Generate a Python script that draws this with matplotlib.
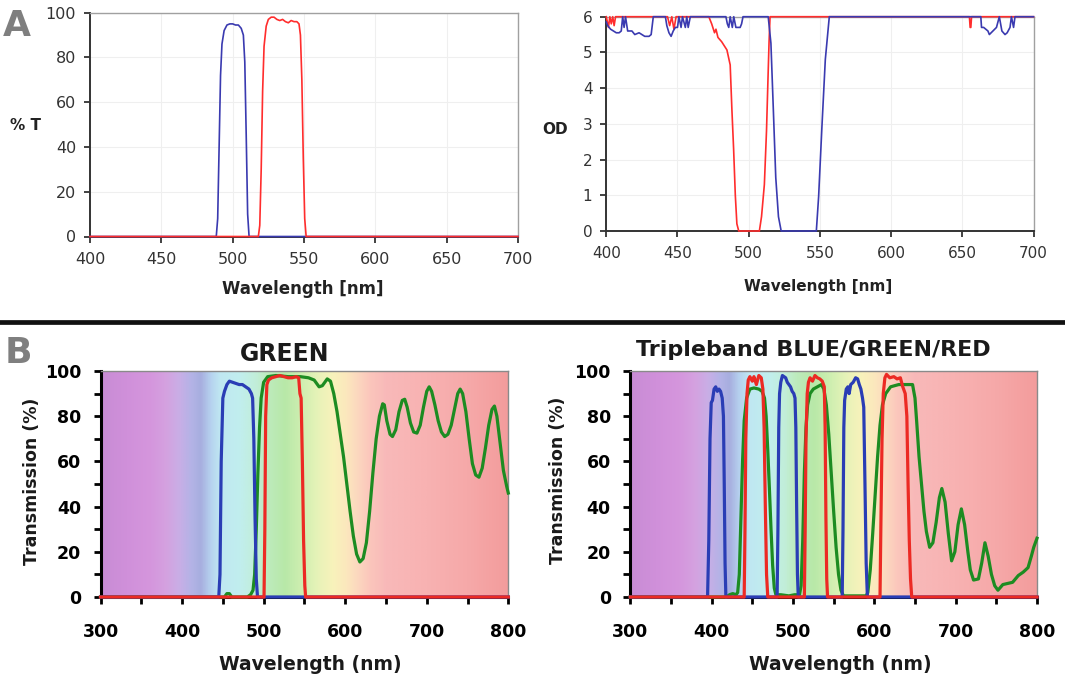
import matplotlib
matplotlib.use('Agg')
import matplotlib.pyplot as plt
import numpy as np
from matplotlib.colors import LinearSegmentedColormap
from matplotlib.lines import Line2D

plt.rcParams['font.family'] = ['DejaVu Sans']

W, H = 1065, 677

# ---------------- panel A left: % T ----------------
a_blue_wl = [400, 488.5, 489.5, 490.5, 491.5, 492.5, 494, 496, 498, 500, 502, 504, 506, 507.5,
             508.5, 509.5, 510.5, 511.5, 700]
a_blue_t = [0, 0, 8, 40, 72, 86, 92, 94.5, 95, 95, 94.5, 94.5, 93, 90, 78, 45, 10, 0, 0]

a_red_wl = [400, 518, 519, 520, 521, 522, 523.5, 525, 527, 529, 531, 533, 535, 537, 539, 541,
            543, 545, 546.5, 547.5, 548.5, 549.5, 550.5, 551.5, 700]
a_red_t = [0, 0, 5, 30, 65, 85, 94, 97, 98, 98, 97, 96.5, 97, 96, 95.5, 96.5, 96, 96, 95, 90,
           70, 35, 8, 0, 0]

# ---------------- panel A right: OD ----------------
od_red_wl = [400, 401.5, 402.5, 403.5, 404.5, 405.5, 406.5, 443, 444.5, 446, 447.5, 449, 450.5,
             472, 474, 476, 477, 478.4, 481, 484.7, 487, 488.2, 489.4, 490.6, 491.7, 493,
             500, 507.5, 509, 511, 512.5, 513.5, 514.3, 515, 655, 655.5, 656, 656.5, 700]
od_red = [6, 5.7, 6, 5.8, 6, 5.75, 6, 6, 5.75, 6, 5.65, 6, 6,
          6, 5.8, 5.55, 5.65, 5.42, 5.3, 5.07, 4.65, 3.4, 2.3, 1.0, 0.2, 0,
          0, 0, 0.4, 1.3, 2.8, 4.2, 5.3, 6, 6, 5.7, 5.7, 6, 6]

od_blue_wl = [400, 401, 403, 405, 407, 409, 410.5, 411.5, 412.5, 413.5, 415, 418, 420, 423, 425,
              427, 430, 431.5, 433, 441.5, 442.5, 444, 445.5, 447, 448.5, 450, 451, 452.5,
              453.5, 455.5, 456.5, 457.5, 459, 484, 485, 486, 487, 488.5, 489.5, 491, 494, 495,
              496, 513.7, 515.6, 517.3, 519, 520.9, 522.8, 547.5, 549.1, 551.4, 553.8, 556.6,
              663, 663.5, 665, 668, 669, 671.5, 674, 676, 677.8, 680, 681.5, 683.5, 684.5, 686,
              687, 700]
od_blue = [5.85, 5.75, 5.65, 5.6, 5.55, 5.55, 5.6, 6, 5.7, 6, 5.6, 5.6, 5.5, 5.55, 5.5,
           5.45, 5.45, 5.5, 6, 6, 5.75, 5.55, 5.45, 5.6, 5.7, 5.7, 6, 5.7,
           6, 5.7, 6, 5.7, 6, 6, 5.8, 5.7, 6, 5.7, 6, 5.7, 5.7, 5.8,
           6, 6, 5.26, 3.4, 1.5, 0.4, 0, 0, 0.96, 2.9, 4.8, 6,
           6, 5.7, 5.7, 5.6, 5.5, 5.6, 5.7, 6, 5.6, 5.5, 5.55, 5.7, 6, 5.7,
           6, 6]

# ---------------- panel B left: GREEN ----------------
g_blue_wl = [300, 445, 446.5, 448, 450, 452, 455, 458, 462, 466, 470, 474, 478, 482, 485,
             486.5, 488, 489.5, 491, 492.5, 800]
g_blue_t = [0, 0, 10, 60, 88, 91, 94, 95.5, 95, 94.5, 94, 94, 93, 92, 90, 88, 70, 35, 8, 0, 0]

g_red_wl = [300, 500.5, 501.5, 502.5, 504, 506, 510, 515, 520, 525, 530, 535, 540, 543, 544.5,
            546, 547.5, 549, 550.5, 551.5, 800]
g_red_t = [0, 0, 30, 80, 94, 96, 97, 97.5, 98, 97.5, 97, 97, 97.5, 97, 90, 88, 60, 25, 5, 0, 0]

g_green_wl = [300, 452, 455, 458, 461, 480, 484, 487, 489, 491, 493, 495, 497, 500, 505, 515,
              530, 545, 555, 562, 568, 572, 575, 578, 582, 586, 590, 594, 598, 602, 606, 610,
              614, 618, 622, 626, 630, 634, 638, 642, 646, 648, 651, 655, 658, 662, 666, 670,
              673, 676, 680, 684, 688, 692, 696, 700, 703, 706, 710, 714, 718, 722, 726, 730,
              734, 738, 741, 744, 748, 752, 756, 760, 764, 768, 772, 776, 780, 783, 786, 790,
              794, 798, 800]
g_green_t = [0, 0, 1.5, 1.5, 0, 0, 1, 3, 10, 30, 55, 75, 88, 95, 97.5, 98,
             97.5, 97.5, 97, 96, 93, 93.5, 95, 96.5, 95.5, 90, 82, 72, 62, 50, 38, 27,
             19, 15.5, 17, 24, 38, 55, 70, 80, 85.5, 85, 78, 72, 71, 74, 82, 87,
             87.5, 84, 77, 73, 72.5, 76, 84, 91, 93, 91, 85, 78, 73, 71, 72, 76,
             83, 90, 92, 90, 82, 70, 59, 54, 53, 57, 66, 76, 83, 84.5, 80, 68,
             56, 49, 46]

# ---------------- panel B right: Tripleband ----------------
t_blue_wl = [300, 395, 396.5, 398, 399.5, 401, 403, 405, 407, 409, 411, 413, 414.5, 415.5, 416.5,
             417.5, 480.5, 481.5, 482.5, 483.5, 485, 487, 489, 491, 493, 495, 497, 499, 501,
             502.5, 503.5, 504.5, 505.5, 506.5, 560.5, 561.5, 562.5, 563.5, 565.5, 567.5, 569,
             571, 574, 577, 579.5, 581.5, 583.5, 585.5, 587, 588.5, 590, 591.5, 800]
t_blue_t = [0, 0, 25, 70, 86, 87, 92, 93, 91, 92, 91, 88, 80, 50, 15,
            0, 0, 30, 75, 90, 95, 98, 97.5, 97, 95, 94, 93, 91, 90,
            88, 75, 40, 10, 0, 0, 30, 75, 87, 92, 93, 90,
            94, 95, 97, 96.5, 94, 92, 88, 84, 50, 15, 0, 0]

t_red_wl = [300, 440, 441, 442, 443.5, 445, 447, 450, 452, 455, 458, 461, 463, 464.5, 466, 467.5,
            469, 514, 515, 516, 517.5, 519, 521, 524, 527, 530, 533, 536, 538.5, 539.5, 540.5,
            541.5, 542.5, 607, 608, 609.5, 611, 613, 615, 619, 624, 628, 632, 635, 638, 640,
            641.5, 643, 644.5, 646, 800]
t_red_t = [0, 0, 30, 70, 90, 96, 97.5, 95.5, 97.5, 94, 98, 97, 92, 75, 40, 10,
           0, 0, 30, 70, 90, 95, 97, 95.5, 98, 97, 96.5, 95.5, 93, 75, 35,
           8, 0, 0, 30, 70, 90, 97, 98.5, 97, 97.5, 96.5, 97, 93, 90, 80,
           50, 25, 8, 0, 0]

t_green_wl = [300, 418, 422, 426, 430, 432, 434, 436, 438, 440, 443, 447, 452, 458, 462, 465,
              467, 469, 471, 473, 475, 477, 479, 485, 495, 502, 506, 508, 510, 512, 514, 516,
              518, 521, 525, 530, 535, 538, 541, 544, 547, 550, 553, 556, 559, 562, 590, 592,
              595, 598, 601, 604, 607, 610, 614, 620, 630, 640, 647, 650, 652, 655, 658, 661,
              664, 668, 672, 676, 680, 683, 687, 691, 695, 699, 703, 707, 711, 715, 718, 722,
              728, 732, 736, 740, 744, 748, 752, 758, 764, 770, 777, 783, 789, 793, 796, 800]
t_green_t = [0, 0, 1, 1.5, 1, 2, 10, 35, 60, 78, 88, 92, 92.5, 92, 91, 88,
             80, 65, 48, 30, 14, 4, 1, 1, 0.5, 1, 1, 1, 5, 25, 55, 75,
             85, 90, 92, 93, 94, 92, 85, 72, 55, 38, 22, 10, 3, 0.5, 0.5, 2,
             12, 28, 45, 62, 76, 85, 90, 93, 94, 94, 94, 88, 78, 62, 50, 38,
             29, 22, 24, 33, 44, 48, 42, 28, 16, 20, 32, 39, 32, 20, 12, 7.5,
             8, 15, 24, 18, 10, 5, 3, 5.5, 6, 6.5, 9.5, 11, 13, 18, 22, 26]

# spectrum colours behind the B plots (wavelength, colour)
spec_wl = [300, 330, 360, 380, 395, 410, 422, 434, 445, 470, 490, 505, 525, 545, 565, 585,
           600, 615, 630, 650, 700, 750, 800]
spec_col = ['#c88cd5', '#d090da', '#d596dd', '#d4a2e0', '#c9aee6', '#b3b3e6', '#a7aedf',
            '#b6d2ef', '#bfe7f2', '#c1eeee', '#c2eed8', '#bdebbc', '#b8e8a8', '#cdeeb0',
            '#e6f3b8', '#f8f2bb', '#fbe8bd', '#fcd8bf', '#fbc6bc', '#f8b9b9', '#f8b2b2',
            '#f6a9a9', '#f39c9c']


def fx(x):
    return x / W


def fy(y):
    return 1 - y / H


fig = plt.figure(figsize=(W / 100, H / 100), dpi=100)


def style_a(ax, xlim, ylim, yticks, fs):
    ax.set_xlim(*xlim)
    ax.set_ylim(*ylim)
    ax.set_xticks(np.arange(xlim[0], xlim[1] + 1, 50))
    ax.set_yticks(yticks)
    ax.grid(color='#efefef', lw=0.8)
    ax.set_axisbelow(True)
    for s in ['top', 'right']:
        ax.spines[s].set_color('#a0a0a0')
        ax.spines[s].set_linewidth(1)
    for s in ['left', 'bottom']:
        ax.spines[s].set_color('#333333')
        ax.spines[s].set_linewidth(1.4)
    ax.tick_params(axis='both', direction='out', length=4, width=1.3, color='#333333',
                   labelcolor='#333333', labelsize=fs)
    ax.tick_params(axis='y', pad=6)
    ax.tick_params(axis='x', pad=7)


# A left
ax1 = fig.add_axes([fx(90), fy(236.5), fx(428), 223.8 / H])
style_a(ax1, (400, 700), (0, 100), np.arange(0, 101, 20), 11.5)
ax1.plot(a_blue_wl, a_blue_t, color='#3a3ab0', lw=1.2, clip_on=False, zorder=3)
ax1.plot(a_red_wl, a_red_t, color='#ff2d2d', lw=1.2, clip_on=False, zorder=3)

# A right
ax2 = fig.add_axes([fx(606.3), fy(231), fx(427.2), 214.3 / H])
style_a(ax2, (400, 700), (0, 6), np.arange(0, 7, 1), 11)
ax2.plot(od_red_wl, od_red, color='#ff2d2d', lw=1.2, clip_on=False, zorder=3)
ax2.plot(od_blue_wl, od_blue, color='#3a3ab0', lw=1.2, clip_on=False, zorder=3)

fig.text(fx(26), fy(126), '% T', ha='center', va='center', fontsize=11, fontweight='bold',
         color='#222222')
fig.text(fx(555), fy(129), 'OD', ha='center', va='center', fontsize=11, fontweight='bold',
         color='#222222')
fig.text(fx(303), fy(289), 'Wavelength [nm]', ha='center', va='center', fontsize=12,
         fontweight='bold', color='#222222')
fig.text(fx(818), fy(286), 'Wavelength [nm]', ha='center', va='center', fontsize=11,
         fontweight='bold', color='#222222')

# separator
fig.add_artist(Line2D([0, 1], [fy(321.5), fy(321.5)], transform=fig.transFigure,
                      color='#111111', lw=3.4))

fig.text(fx(3), fy(36), 'A', ha='left', va='baseline', fontsize=26, fontweight='bold',
         color='#7f7f7f')
fig.text(fx(5), fy(363), 'B', ha='left', va='baseline', fontsize=26, fontweight='bold',
         color='#7f7f7f')

spec_cmap = LinearSegmentedColormap.from_list(
    'spec', [((w - 300) / 500, c) for w, c in zip(spec_wl, spec_col)])


def style_b(ax):
    grad = np.linspace(300, 800, 500).reshape(1, -1)
    ax.imshow(grad, extent=[300, 800, 0, 100], aspect='auto', cmap=spec_cmap, vmin=300,
              vmax=800, interpolation='bilinear', zorder=0)
    ax.set_xlim(300, 800)
    ax.set_ylim(0, 100)
    ax.set_xticks(np.arange(300, 801, 100))
    ax.set_xticks(np.arange(350, 800, 100), minor=True)
    ax.set_yticks(np.arange(0, 101, 20))
    ax.set_yticks(np.arange(10, 100, 20), minor=True)
    for s in ['top', 'right']:
        ax.spines[s].set_color('#8a8a8a')
        ax.spines[s].set_linewidth(1)
    for s in ['left', 'bottom']:
        ax.spines[s].set_color('black')
        ax.spines[s].set_linewidth(2.2)
    ax.tick_params(axis='both', which='both', direction='out', length=5, width=2,
                   color='black', labelsize=12.5)
    ax.tick_params(axis='y', which='both', pad=9)
    ax.tick_params(axis='x', which='both', pad=14)
    for lab in ax.get_xticklabels() + ax.get_yticklabels():
        lab.set_fontweight('bold')


# B left
ax3 = fig.add_axes([fx(100.5), fy(597), fx(407.8), 226 / H])
style_b(ax3)
ax3.plot(g_green_wl, g_green_t, color='#1d8c22', lw=2.3, clip_on=False, zorder=3)
ax3.plot(g_blue_wl, g_blue_t, color='#2a3db5', lw=2.3, clip_on=False, zorder=3)
ax3.plot(g_red_wl, g_red_t, color='#ec2a24', lw=2.3, clip_on=False, zorder=3)

# B right
ax4 = fig.add_axes([fx(630.3), fy(597), fx(406.7), 226 / H])
style_b(ax4)
ax4.plot(t_green_wl, t_green_t, color='#1d8c22', lw=2.3, clip_on=False, zorder=3)
ax4.plot(t_blue_wl, t_blue_t, color='#2a3db5', lw=2.3, clip_on=False, zorder=3)
ax4.plot(t_red_wl, t_red_t, color='#ec2a24', lw=2.3, clip_on=False, zorder=3)

fig.text(fx(285), fy(361), 'GREEN', ha='center', va='baseline', fontsize=17,
         fontweight='bold', color='#1a1a1a')
fig.text(fx(813), fy(356), 'Tripleband BLUE/GREEN/RED', ha='center', va='baseline',
         fontsize=16, fontweight='bold', color='#1a1a1a')
fig.text(fx(32.5), fy(481.5), 'Transmission (%)', ha='center', va='center', rotation=90,
         fontsize=12.5, fontweight='bold', color='#1a1a1a')
fig.text(fx(558), fy(480), 'Transmission (%)', ha='center', va='center', rotation=90,
         fontsize=12.5, fontweight='bold', color='#1a1a1a')
fig.text(fx(310), fy(665), 'Wavelength (nm)', ha='center', va='center', fontsize=13.5,
         fontweight='bold', color='#1a1a1a')
fig.text(fx(840), fy(665), 'Wavelength (nm)', ha='center', va='center', fontsize=13.5,
         fontweight='bold', color='#1a1a1a')

fig.savefig('out.png', dpi=100)
